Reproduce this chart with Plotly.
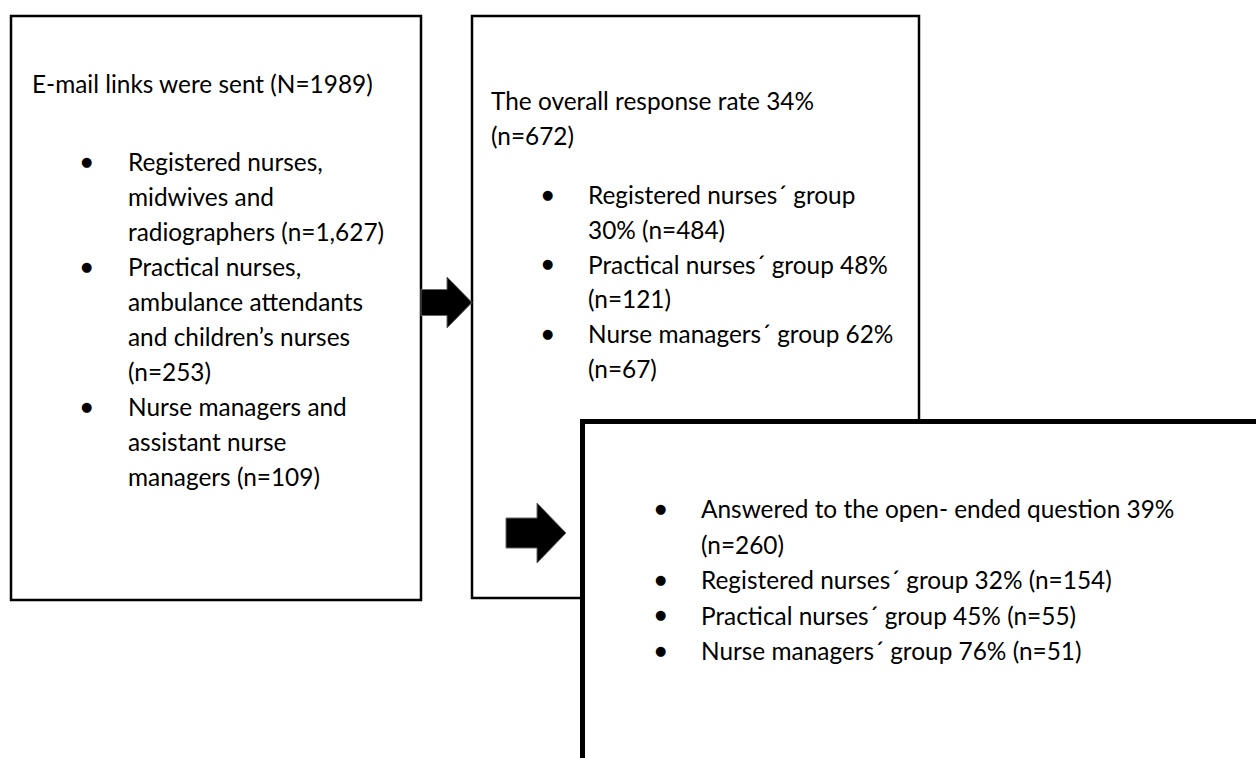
import plotly.graph_objects as go

# ---- content (text of the flow chart) ----
box1_title = ["E-mail links were sent (N=1989)"]
box1_items = [
    ["Registered nurses,", "midwives and", "radiographers (n=1,627)"],
    ["Practical nurses,", "ambulance attendants", "and children\u2019s nurses", "(n=253)"],
    ["Nurse managers and", "assistant nurse", "managers (n=109)"],
]
box2_title = ["The overall response rate 34%", "(n=672)"]
box2_items = [
    ["Registered nurses\u00b4 group", "30% (n=484)"],
    ["Practical nurses\u00b4 group 48%", "(n=121)"],
    ["Nurse managers\u00b4 group 62%", "(n=67)"],
]
box3_title = []
box3_items = [
    ["Answered to the open- ended question 39%", "(n=260)"],
    ["Registered nurses\u00b4 group 32% (n=154)"],
    ["Practical nurses\u00b4 group 45% (n=55)"],
    ["Nurse managers\u00b4 group 76% (n=51)"],
]

# ---- layout constants (pixels) ----
W, H = 1256, 758
FONT = "Lato"
FS = 24.4
BOXES = [
    dict(x0=11, y0=16, x1=421, y1=600, w=2.5),
    dict(x0=472, y0=16, x1=919, y1=598, w=2.5),
    dict(x0=582.5, y0=421.5, x1=1300, y1=800, w=5),
]
TEXT = [
    dict(title=box1_title, items=box1_items, tx=30, ty=83.5, bx=86, ix=126, iy=161.5, step=35),
    dict(title=box2_title, items=box2_items, tx=489, ty=100.5, bx=547, ix=586, iy=194.5, step=34.8),
    dict(title=box3_title, items=box3_items, tx=0, ty=0, bx=660, ix=699, iy=508.5, step=35.5),
]
ARROWS = [
    dict(xs=421, xh=447, xt=472, yc=302.5, sh=13, hh=25.5),
    dict(xs=506, xh=537, xt=566, yc=533, sh=15, hh=30),
]

fig = go.Figure()
fig.add_trace(go.Scatter(x=[0, W], y=[0, H], mode="markers",
                         marker=dict(opacity=0), hoverinfo="skip", showlegend=False))

shapes = []
for b in BOXES:
    shapes.append(dict(type="rect", xref="x", yref="y", x0=b["x0"], y0=b["y0"],
                       x1=b["x1"], y1=b["y1"], line=dict(color="black", width=b["w"]),
                       fillcolor="white", layer="above"))
for a in ARROWS:
    p = (f"M{a['xs']},{a['yc']-a['sh']} L{a['xh']},{a['yc']-a['sh']} "
         f"L{a['xh']},{a['yc']-a['hh']} L{a['xt']},{a['yc']} "
         f"L{a['xh']},{a['yc']+a['hh']} L{a['xh']},{a['yc']+a['sh']} "
         f"L{a['xs']},{a['yc']+a['sh']} Z")
    shapes.append(dict(type="path", xref="x", yref="y", path=p, fillcolor="black",
                       line=dict(color="#666", width=1), layer="above"))

annotations = []
def txt(x, y, s, size=FS, anchor="left", family=FONT):
    annotations.append(dict(x=x, y=y, xref="x", yref="y", text=s, showarrow=False,
                            xanchor=anchor, yanchor="middle",
                            font=dict(family=family, size=size, color="black")))

for t in TEXT:
    for i, line in enumerate(t["title"]):
        txt(t["tx"], t["ty"] + i * t["step"], line)
    y = t["iy"]
    for item in t["items"]:
        txt(t["bx"], y - 0.5, "\u25cf", size=13, anchor="center", family="DejaVu Sans")
        for line in item:
            txt(t["ix"], y, line)
            y += t["step"]

fig.update_layout(
    width=W, height=H, margin=dict(l=0, r=0, t=0, b=0),
    paper_bgcolor="white", plot_bgcolor="white",
    xaxis=dict(range=[0, W], visible=False, fixedrange=True),
    yaxis=dict(range=[H, 0], visible=False, fixedrange=True),
    shapes=shapes, annotations=annotations, showlegend=False,
)
fig.write_html("out.html", config={"displayModeBar": False, "staticPlot": True},
               post_script="document.body.style.margin='0';")
